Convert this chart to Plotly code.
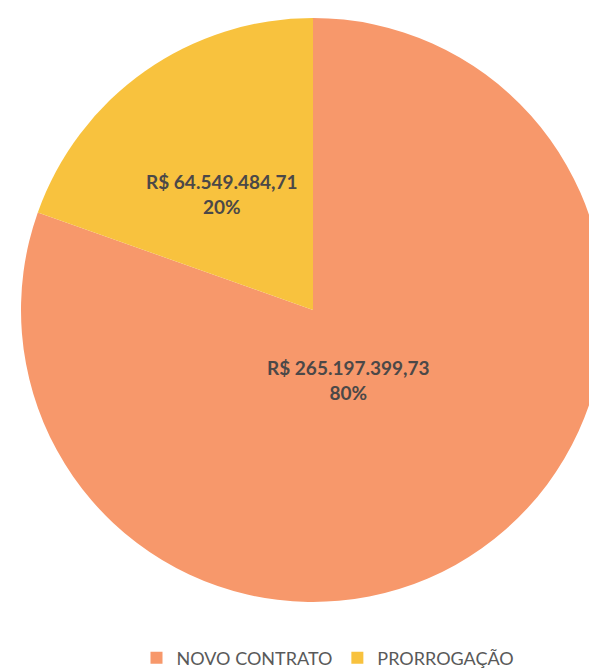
import plotly.graph_objects as go

categories = ["NOVO CONTRATO", "PRORROGAÇÃO"]
values = [265197399.73, 64549484.71]
colors = ["#F7986B", "#F8C23E"]


def brl(v):
    s = f"{v:,.2f}"
    s = s.replace(",", "X").replace(".", ",").replace("X", ".")
    return "R$ " + s


total = sum(values)
label_texts = [f"<b>{brl(v)}<br>{round(100 * v / total):.0f}%</b>" for v in values]

W, H = 597, 668
ML, MR, MT, MB = 13, 0, 6, 70
pw, ph = W - ML - MR, H - MT - MB

fig = go.Figure(
    go.Pie(
        labels=categories,
        values=values,
        marker=dict(colors=colors, line=dict(width=0)),
        direction="clockwise",
        sort=False,
        rotation=0,
        textinfo="none",
        hoverinfo="label+value+percent",
        showlegend=True,
    )
)

# label positions in pixels (centre of text block)
label_pos = [(340, 372), (214, 160)]
for (px, py), txt in zip(label_pos, label_texts):
    fig.add_annotation(
        x=(px - ML) / pw,
        y=1 - (py - MT) / ph,
        xref="paper",
        yref="paper",
        text=txt,
        showarrow=False,
        font=dict(family="Lato", size=19, color="#4B4848"),
        align="center",
    )

fig.update_layout(
    width=W,
    height=H,
    margin=dict(l=ML, r=MR, t=MT, b=MB, autoexpand=False),
    paper_bgcolor="white",
    plot_bgcolor="white",
    legend=dict(
        orientation="h",
        x=(320 - ML) / pw,
        xanchor="center",
        y=-(650 - (MT + ph)) / ph,
        yanchor="middle",
        font=dict(family="Lato", size=18, color="#595959"),
        traceorder="normal",
    ),
)

fig.write_html("out.html")
